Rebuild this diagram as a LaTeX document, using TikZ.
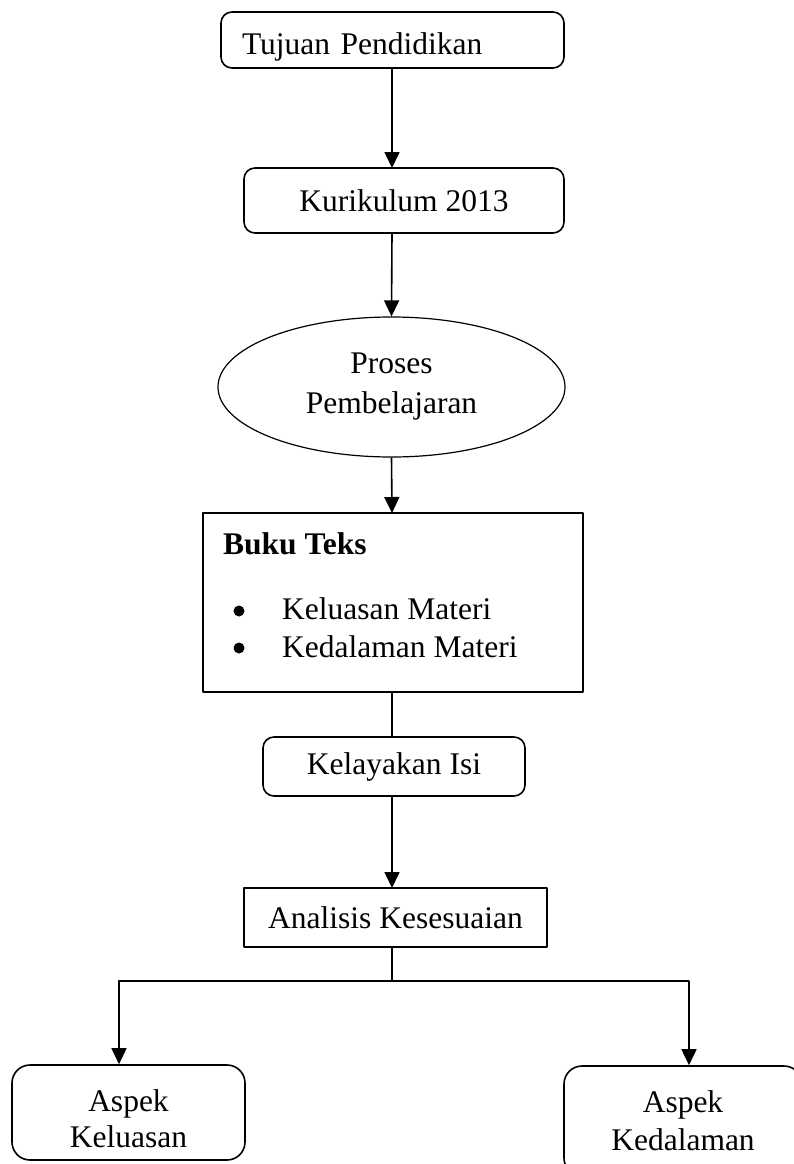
\documentclass[tikz,border=0pt]{standalone}
\usepackage{fontspec}
\setmainfont{Liberation Serif}
\usepackage{tikz}
\usetikzlibrary{arrows.meta,calc,positioning,shapes.geometric}
\tikzset{
  rbox/.style={draw, rounded corners=11pt, line width=1.6pt, inner sep=0pt, align=center},
  sbox/.style={draw, line width=1.5pt, inner sep=0pt, align=center},
  oval/.style={ellipse, draw, line width=1.2pt, inner sep=0pt, align=center},
  arr/.style={line width=1.6pt, -{Triangle[length=16pt,width=15pt]}},
  ln/.style={line width=1.6pt},
  every picture/.style={line cap=butt, line join=round}
}

\begin{document}
\begin{tikzpicture}[x=1pt, y=-1pt,
  font=\fontsize{31.5}{38}\selectfont]
  \clip (0,0) rectangle (794,1164);
  \fill[white] (0,0) rectangle (794,1164);
  \node[rbox, minimum width=343pt, minimum height=56pt, text width=301pt, inner xsep=21pt, align=left, text height=36pt] (tujuan) at (392.5,40) {Tujuan Pendidikan};
  \node[rbox, minimum width=320pt, minimum height=65pt] (kurikulum) at (404,200.5) {Kurikulum 2013};
  \node[oval, minimum width=347pt, minimum height=140pt] (proses) at (391.5,387) {Proses\\[2pt]Pembelajaran};
  \node[sbox, line width=1.8pt, minimum width=380pt, minimum height=179pt] (buku) at (393,602.5) {};
  \node[anchor=west, inner sep=0pt] (judul) at (223,544) {\textbf{Buku Teks}};
  \node[anchor=west, inner sep=0pt] (luas) at (282,609) {Keluasan Materi};
  \node[anchor=west, inner sep=0pt] (dalam) at (282,647) {Kedalaman Materi};
  \fill (239,611) circle (5.5pt) (239,648) circle (5.5pt);
  \node[rbox, minimum width=262pt, minimum height=59pt] (kelayakan) at (394,766.5) {Kelayakan Isi};
  \node[sbox, minimum width=303pt, minimum height=59pt] (analisis) at (395.5,917.5) {Analisis Kesesuaian};
  \node[rbox, rounded corners=18pt, minimum width=233pt, minimum height=95pt, text height=70pt] (keluasan) at (128.5,1112.5) {Aspek\\[-2pt]Keluasan};
  \node[rbox, rounded corners=18pt, minimum width=238pt, minimum height=110pt] (kedalaman) at (683,1121) {Aspek\\[0pt]Kedalaman};
  \coordinate (split) at (392,981);
  \coordinate (kiri) at (119,981);
  \coordinate (kanan) at (689,981);
  % alur utama
  \draw[arr] (392,68) -- (392,168);
  \draw[arr] (392,233) -- (proses.north);
  \draw[arr] (proses.south) -- (392,513);
  \draw[ln] (392,692) -- (392,737);
  \draw[arr] (392,796) -- (392,888);
  % percabangan
  \draw[ln] (392,947) -- (split);
  \draw[arr] (split) -- (kiri) -- (keluasan.north -| kiri);
  \draw[arr] (split) -- (kanan) -- (kedalaman.north -| kanan);
\end{tikzpicture}
\end{document}
